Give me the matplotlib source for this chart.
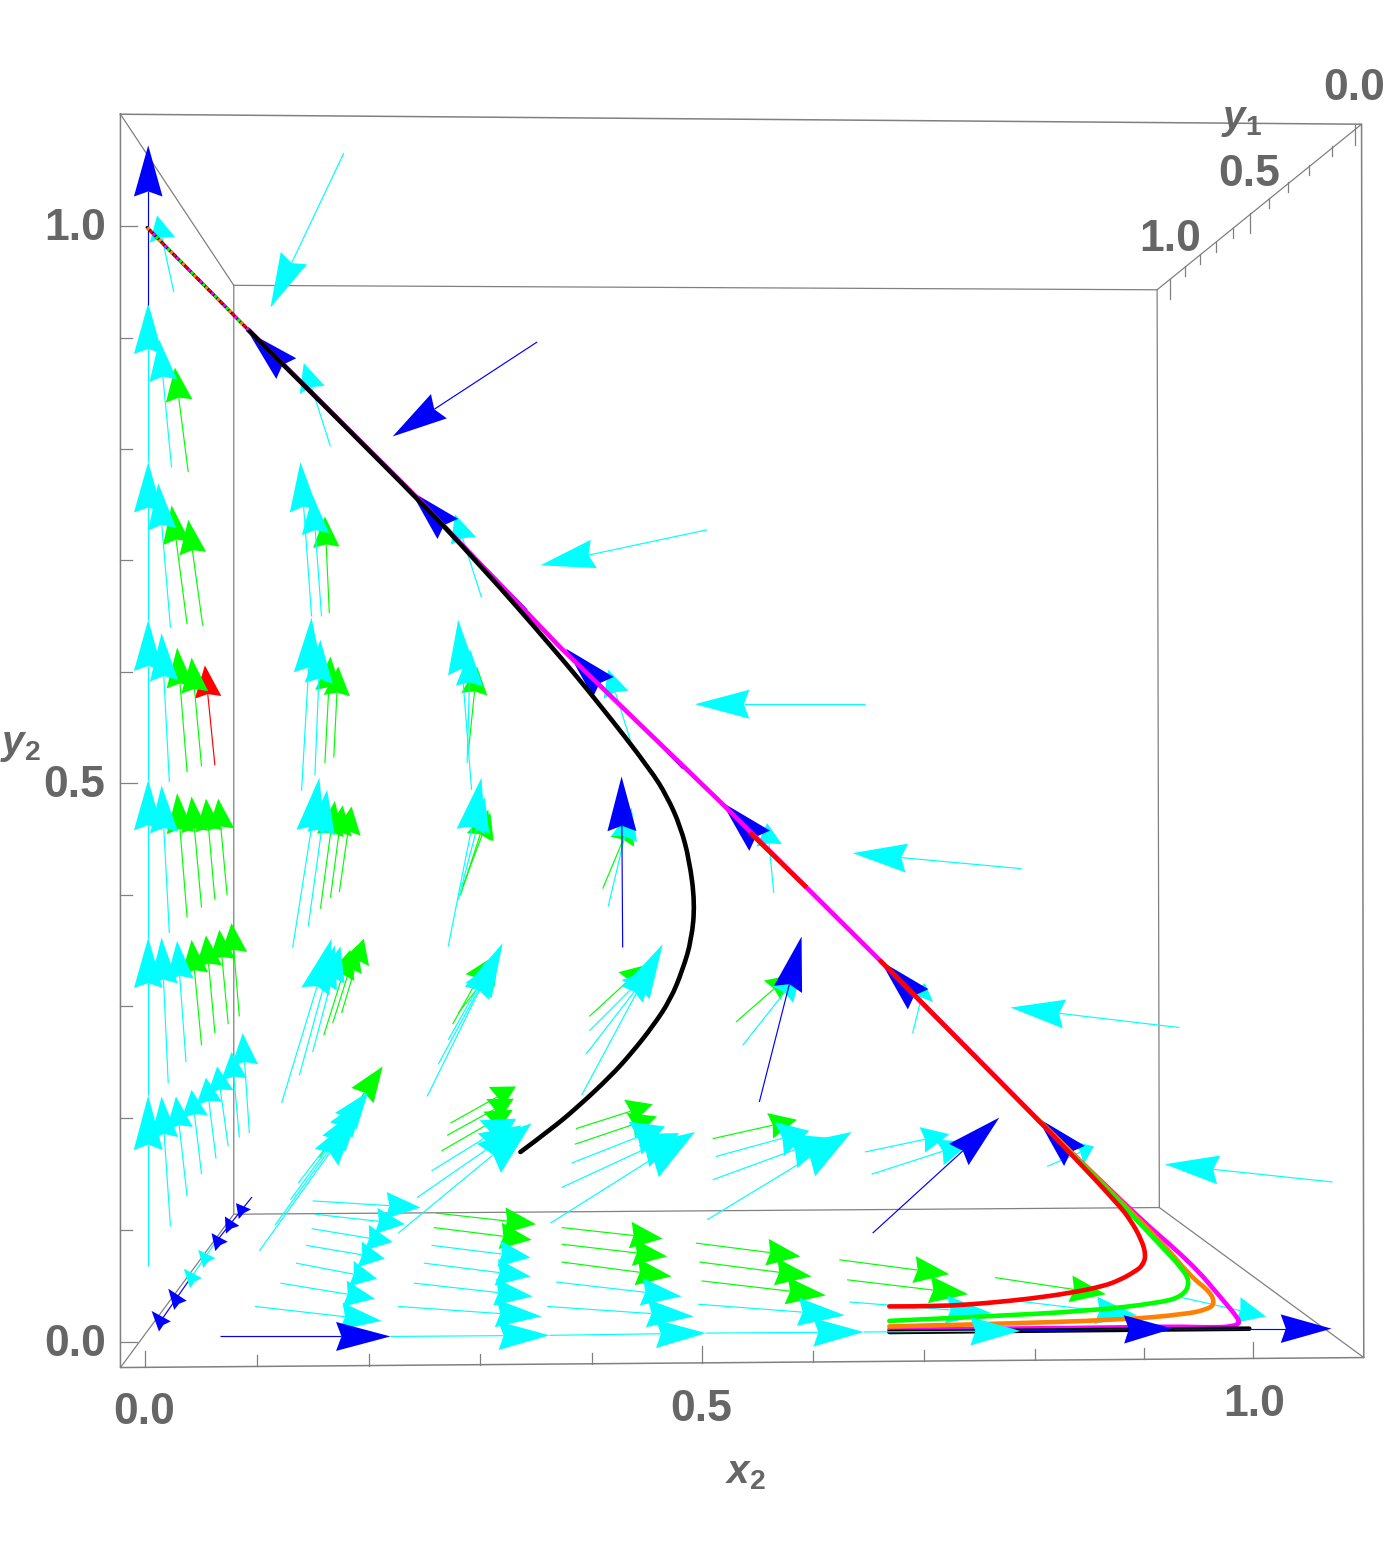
import matplotlib
matplotlib.use("Agg")
import matplotlib.pyplot as plt
import numpy as np
from matplotlib.patches import Polygon, PathPatch
from matplotlib.path import Path

plt.rcParams['mathtext.fontset'] = 'custom'
plt.rcParams['mathtext.bf'] = 'Liberation Sans:bold'
plt.rcParams['mathtext.bfit'] = 'Liberation Sans:italic:bold'

# vector field, projected into the x2-y2 view plane: tail x, tail y, tip x, tip y
cyan_x0 = [.002,.002,.002,.002,.002,.002,.023,.022,.021,.021,.020,.036,.022,.037,.050,.063,.074,.084,.093,.025,
           .149,.158,.140,.152,.132,.146,.122,.138,.150,.102,.116,.130,.137,.293,.289,.272,.281,.253,.263,.272,
           .416,.392,.396,.399,.537,.150,.152,.149,.144,.135,.121,.098,.257,.250,.241,.227,.369,.361,.497,.633,
           .775,.928,.178,.505,.647,.788,.930,1.068,.647,.653,
           .166,.302,.438,.565,.690,.811]
cyan_y0 = [.792,.650,.506,.364,.222,.068,.787,.643,.504,.368,.233,.252,.104,.131,.151,.165,.176,.184,.188,.945,
           .653,.653,.496,.510,.355,.374,.215,.240,.261,.082,.105,.128,.143,.497,.521,.356,.398,.221,.250,.272,
           .392,.222,.259,.280,.267,.127,.115,.102,.087,.071,.053,.032,.087,.071,.053,.032,.054,.032,.034,.036,
           .038,.041,1.070,.731,.574,.426,.283,.144,.171,.151,
           .806,.670,.535,.404,.278,.158]
cyan_x1 = [.002,.002,.002,.002,.002,.002,.012,.011,.014,.014,.014,.028,.014,.027,.041,.054,.064,.077,.087,.010,
           .139,.150,.149,.157,.156,.163,.167,.170,.175,.191,.194,.197,.200,.281,.292,.302,.305,.321,.314,.310,
           .437,.465,.457,.454,.590,.247,.233,.222,.215,.208,.206,.212,.346,.346,.348,.356,.482,.493,.629,.761,
           .892,1.008,.112,.355,.494,.636,.778,.917,.723,.743,
           .142,.278,.416,.559,.701,.853]
cyan_y1 = [.935,.792,.650,.506,.364,.222,.902,.773,.638,.501,.364,.361,.221,.221,.227,.238,.248,.261,.278,1.014,
           .792,.762,.652,.632,.508,.497,.363,.357,.356,.206,.213,.220,.225,.650,.623,.508,.490,.359,.344,.339,
           .481,.358,.338,.335,.334,.121,.106,.090,.075,.057,.039,.019,.076,.059,.041,.023,.041,.023,.024,.026,
           .024,.023,.931,.699,.574,.440,.301,.160,.187,.180,
           .881,.745,.605,.467,.323,.176]

# arrows pointing partly out of the view plane, heads look broader
cyan_wide_x0 = [.257,.244,.227,.383,.374,.364,.513,.510,.505]
cyan_wide_y0 = [.154,.130,.098,.161,.139,.107,.167,.146,.110]
cyan_wide_x1 = [.333,.338,.347,.467,.480,.494,.597,.614,.635]
cyan_wide_y1 = [.201,.195,.197,.194,.188,.189,.190,.184,.189]

green_x0 = [.038,.037,.051,.037,.050,.037,.050,.062,.073,.050,.062,.074,.084,.165,.161,.169,.157,.166,.174,.160,.168,
            .176,.156,.290,.283,.285,.276,.281,.411,.399,.531,.261,.259,.374,.374,.374,.495,.498,.500,.624,.631,.764,
            .274,.271,.266,.387,.386,.510]
green_y0 = [.783,.646,.645,.513,.518,.382,.391,.398,.402,.267,.278,.286,.293,.656,.521,.526,.390,.400,.405,.276,.287,
            .296,.166,.530,.402,.410,.286,.296,.408,.293,.288,.116,.103,.103,.088,.072,.089,.072,.055,.074,.056,.058,
            .197,.186,.172,.192,.178,.183]
green_x1 = [.026,.023,.038,.028,.041,.028,.041,.054,.065,.041,.054,.066,.077,.161,.166,.173,.170,.177,.185,.184,.190,
            .196,.213,.298,.308,.310,.308,.316,.437,.449,.579,.351,.347,.465,.469,.473,.589,.599,.612,.723,.740,.864,
            .333,.331,.330,.456,.460,.586]
green_y1 = [.877,.753,.740,.625,.616,.494,.491,.489,.489,.362,.366,.371,.377,.743,.617,.608,.487,.483,.482,.353,.357,
            .363,.248,.608,.479,.476,.344,.341,.470,.339,.330,.106,.092,.093,.077,.059,.077,.059,.042,.061,.043,.043,
            .230,.219,.209,.214,.203,.200]

red_x0 = [.062]
red_y0 = [.519]
red_x1 = [.053]
red_y1 = [.609]

blue_x0 = [.002,.199,.343,.483,.625,.767,.907,.352,.429,.552,.654]
blue_y0 = [.933,.806,.659,.516,.377,.235,.094,.900,.355,.216,.098]
blue_x1 = [.002,.092,.238,.378,.518,.661,.802,.222,.428,.590,.768]
blue_y1 = [1.077,.909,.766,.624,.486,.343,.202,.815,.509,.365,.202]

# the row lying on y2 = 0, drawn over the trajectories
axis_cyan_x0 = [.220,.363,.504,.646]
axis_cyan_y0 = [.005,.006,.008,.009]
axis_cyan_x1 = [.363,.504,.646,.787]
axis_cyan_y1 = [.006,.008,.009,.010]
axis_blue_x0 = [.067,.787,.924]
axis_blue_y0 = [.005,.010,.012]
axis_blue_x1 = [.220,.924,1.067]
axis_blue_y1 = [.005,.012,.012]

# short arrows near the origin, only their heads stand clear of the y1 axis
near_blue_x0 = [.089,.078,.068,.031,.017]
near_blue_y0 = [.115,.101,.086,.033,.014]
near_blue_x1 = [.081,.071,.059,.020,.005]
near_blue_y1 = [.125,.113,.098,.048,.028]
near_cyan_x0 = [.057,.045]
near_cyan_y0 = [.071,.053]
near_cyan_x1 = [.047,.034]
near_cyan_y1 = [.083,.066]

diag_blue_x = [.095,.062]
diag_blue_y = [.130,.089]
diag_cyan_x = [.062,.039]
diag_cyan_y = [.089,.056]
diag_blue2_x = [.039,.014]
diag_blue2_y = [.056,.020]

# trajectories
common_x = [.092,.238,.373,.517,.661,.801]
common_y = [.911,.766,.625,.486,.343,.202]
magenta_x = [.801,.885,.941,.969,.980,.985,.978,.960,.926,.880,.669]
magenta_y = [.202,.119,.071,.038,.025,.017,.014,.013,.014,.013,.011]
orange_x = [.801,.911,.940,.958,.962,.954,.935,.880,.757,.669]
orange_y = [.202,.094,.059,.045,.034,.029,.025,.020,.016,.014]
green_curve_x = [.801,.883,.913,.931,.940,.933,.911,.849,.757,.669]
green_curve_y = [.202,.119,.087,.068,.054,.041,.035,.028,.023,.019]
red_curve_x = [.661,.785,.831,.874,.886,.896,.900,.897,.891,.877,.861,.831,.796,.757,.715,.669]
red_curve_y = [.343,.218,.171,.125,.110,.092,.078,.069,.064,.056,.050,.044,.039,.035,.032,.032]
red_piece_x = [.545,.593]
red_piece_y = [.457,.4105]
black_x = [.092,.238,.301,.366,.409,.454,.469,.481,.489,.494,.491,.483,.472,.456,.437,.418,.388,.364,.337]
black_y = [.911,.766,.699,.625,.573,.515,.491,.464,.434,.395,.362,.335,.308,.284,.260,.239,.211,.191,.171]
black_low_x = [.669,.993]
black_low_y = [.009,.012]
start_x = [.001,.092]
start_y = [1.003,.911]

# bounding box
outer_x = [-.023,1.094,1.096,-.023,-.023]
outer_y = [1.105,1.096,-.014,-.023,1.105]
inner_x = [.079,.910,.912,.079,.079]
inner_y = [.951,.947,.121,.115,.951]

y2_tick_y = [1.004,.904,.804,.704,.603,.503,.402,.302,.202,.101,0]
x2_tick_x = [-.001,.100,.201,.301,.401,.500,.600,.700,.800,.898,.996]
y1_tick_x = [1.088,1.067,1.047,1.028,1.011,.994,.978,.963,.949,.935,.922]
y1_tick_y = [1.095,1.076,1.059,1.044,1.030,1.016,1.003,.990,.979,.968,.957]

GRAY = '#808080'
LABEL = '#666666'

fig = plt.figure(figsize=(13.86, 15.55), dpi=100)
ax = fig.add_axes([0, 0, 1, 1])
ax.set_xlim(-.1314, 1.1160)
ax.set_ylim(-.1917, 1.2078)
ax.axis('off')


def draw_arrows(x0, y0, x1, y1, color, extra=0, frac=.32, fixed=None, shaft=True, z=3):
    for a, b, c, d in zip(x0, y0, x1, y1):
        tail = np.array([a, b])
        tip = np.array([c, d])
        vec = tip - tail
        length = np.hypot(*vec)
        unit = vec / length
        side = np.array([-unit[1], unit[0]])
        head = frac * length
        back = tip - unit * head
        notch = tip - unit * head * .9
        # head width barely follows the arrow length
        half = (fixed if fixed else .021 + .033 * length + extra) / 2
        if shaft:
            ax.plot([a, notch[0]], [b, notch[1]], color=color, lw=.85, zorder=z,
                    solid_capstyle='butt')
        ax.add_patch(Polygon([tip, back + side * half, notch, back - side * half],
                             closed=True, fc=color, ec='none', zorder=z))


def smooth_curve(x, y, color, z):
    # straight ends, rounded through the read points in between
    verts = [(x[0], y[0])]
    codes = [Path.MOVETO]
    for i in range(1, len(x) - 1):
        end = ((x[i] + x[i + 1]) / 2, (y[i] + y[i + 1]) / 2)
        if i == len(x) - 2:
            end = (x[-1], y[-1])
        verts += [(x[i], y[i]), end]
        codes += [Path.CURVE3, Path.CURVE3]
    ax.add_patch(PathPatch(Path(verts, codes), fc='none', ec=color, lw=3.3, zorder=z,
                           capstyle='round', joinstyle='round'))


# box edges and the lines joining the near and far faces
ax.plot(outer_x, outer_y, color=GRAY, lw=1.1, zorder=1)
ax.plot(inner_x, inner_y, color=GRAY, lw=.9, zorder=1)
for i in range(4):
    ax.plot([outer_x[i], inner_x[i]], [outer_y[i], inner_y[i]], color=GRAY, lw=.9, zorder=1)

for i, v in enumerate(y2_tick_y):
    ax.plot([-.023, -.008 if i % 5 == 0 else -.013], [v, v], color=GRAY, lw=.9, zorder=1)
for i, v in enumerate(x2_tick_x):
    base = np.interp(v, [-.023, 1.096], [-.023, -.014])
    ax.plot([v, v], [base, base + (.015 if i % 5 == 0 else .010)], color=GRAY, lw=.9, zorder=1)
for i, (u, v) in enumerate(zip(y1_tick_x, y1_tick_y)):
    ax.plot([u, u], [v, v - (.018 if i % 5 == 0 else .009)], color=GRAY, lw=.9, zorder=1)

draw_arrows(red_x0, red_y0, red_x1, red_y1, '#ff0000', z=3)
draw_arrows(green_x0, green_y0, green_x1, green_y1, '#00ff00', z=4)
draw_arrows(cyan_x0, cyan_y0, cyan_x1, cyan_y1, '#00ffff', z=5)
draw_arrows(cyan_wide_x0, cyan_wide_y0, cyan_wide_x1, cyan_wide_y1, '#00ffff', extra=.008, z=5)
draw_arrows(blue_x0, blue_y0, blue_x1, blue_y1, '#0000ff', z=6)

ax.plot(diag_blue_x, diag_blue_y, color='#0000ff', lw=.85, zorder=5)
ax.plot(diag_cyan_x, diag_cyan_y, color='#00ffff', lw=.85, zorder=5)
ax.plot(diag_blue2_x, diag_blue2_y, color='#0000ff', lw=.85, zorder=5)
draw_arrows(near_blue_x0, near_blue_y0, near_blue_x1, near_blue_y1, '#0000ff', frac=1.0, fixed=.014, shaft=False, z=6)
draw_arrows(near_cyan_x0, near_cyan_y0, near_cyan_x1, near_cyan_y1, '#00ffff', frac=1.0, fixed=.014, shaft=False, z=6)

# trajectories, they share the long diagonal before turning along y2 = 0
ax.plot(common_x, common_y, color='#ff00ff', lw=3.3, zorder=7.5, solid_capstyle='round',
        solid_joinstyle='round')
smooth_curve(orange_x, orange_y, '#ff7f00', 7.6)
smooth_curve(magenta_x, magenta_y, '#ff00ff', 7.5)
smooth_curve(green_curve_x, green_curve_y, '#00ff00', 8)
smooth_curve(red_curve_x, red_curve_y, '#ff0000', 9)
ax.plot(red_piece_x, red_piece_y, color='#ff0000', lw=3.3, zorder=9)
smooth_curve(black_x, black_y, 'black', 10)
ax.plot(black_low_x, black_low_y, color='black', lw=3.3, zorder=10, solid_capstyle='round')

# where all five start the strokes fight, so dash them over one dark stroke
ax.plot(start_x, start_y, color='black', lw=2.3, zorder=10, solid_capstyle='round')
for off, col in enumerate(['#ff7f00', '#00ff00', '#ff00ff', '#ff0000']):
    ax.plot(start_x, start_y, color=col, lw=2.3, zorder=10 + (off + 1) * .1,
            linestyle=(off * 1.3, (1.0, 4.2)))

draw_arrows(axis_cyan_x0, axis_cyan_y0, axis_cyan_x1, axis_cyan_y1, '#00ffff', z=11)
draw_arrows(axis_blue_x0, axis_blue_y0, axis_blue_x1, axis_blue_y1, '#0000ff', z=12)

# tick and axis labels
tick_font = dict(family=['Liberation Sans Narrow', 'Liberation Sans'], weight='bold', fontsize=32,
                 color=LABEL, ha='center', va='center')
ax.text(-.064, 1.002, '1.0', **tick_font)
ax.text(-.065, .501, '0.5', **tick_font)
ax.text(-.064, -.002, '0.0', **tick_font)
ax.text(-.002, -.063, '0.0', **tick_font)
ax.text(.500, -.061, '0.5', **tick_font)
ax.text(.997, -.056, '1.0', **tick_font)
ax.text(1.087, 1.128, '0.0', **tick_font)
ax.text(.993, 1.051, '0.5', **tick_font)
ax.text(.922, .992, '1.0', **tick_font)

ax.text(.540, -.117, r'$\mathbfit{x}_{\mathbf{2}}$', fontsize=29, color=LABEL, ha='center', va='center')
ax.text(-.113, .538, r'$\mathbfit{y}_{\mathbf{2}}$', fontsize=29, color=LABEL, ha='center', va='center')
ax.text(.986, 1.101, r'$\mathbfit{y}_{\mathbf{1}}$', fontsize=29, color=LABEL, ha='center', va='center')

fig.savefig('out.png', dpi=100, facecolor='white')
